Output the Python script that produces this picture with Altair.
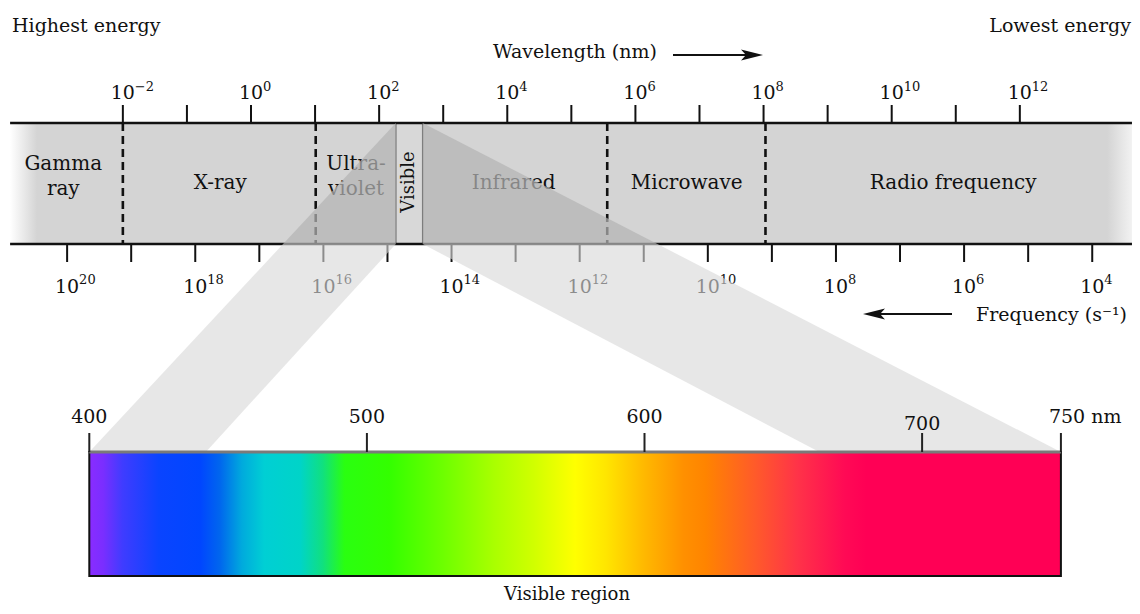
import altair as alt
import pandas as pd

# ------------------------------------------------------------------ data
wavelength_tick_exp = list(range(-2, 13))                 # one tick per decade (nm)
wavelength_label_exp = [-2, 0, 2, 4, 6, 8, 10, 12]
frequency_tick_exp = list(range(20, 3, -1))                 # one tick per decade (s^-1)
frequency_label_exp = [20, 18, 16, 14, 12, 10, 8, 6, 4]
frequency_to_loglambda = 17.13                               # log10(lambda) = 17.13 - log10(f) as drawn
band_extent_loglambda = [-3.76, 13.75]

region_names = ["Gamma\nray", "X-ray", "Ultra-\nviolet", "Infrared", "Microwave", "Radio frequency"]
region_centers = [-2.93, -0.48, 1.64, 4.10, 6.80, 10.96]
visible_name = "Visible"
visible_extent = [2.26, 2.68]
dashed_boundaries = [-2.0, 1.01, 5.56, 8.03]

spectrum_extent_nm = [400, 750]
spectrum_tick_nm = [400, 500, 600, 700, 750]
spectrum_tick_text = ["400", "500", "600", "700", "750 nm"]
spectrum_stop_nm = [400, 405, 412, 425, 440, 447, 455, 463, 476, 484, 492, 508, 527,
                    546, 560, 575, 586, 600, 614, 622, 640, 655, 672, 680, 750]
spectrum_stop_color = ["#8a2cff", "#7a2eff", "#3f3cff", "#0a44ff", "#0046ff", "#0066ee",
                       "#00aadd", "#00cfd4", "#00d4c8", "#10e080", "#2aff10", "#33ff00",
                       "#6cff00", "#aaff00", "#d0ff00", "#ffff00", "#ffe600", "#ffb800",
                       "#ff9000", "#ff8400", "#ff5a2a", "#ff3348", "#ff0a55", "#ff0055", "#ff0055"]
wedge_inner_feet_nm = [442, 663]

# ------------------------------------------------------------------ layout
W, H = 1124, 598
U_DOMAIN = [-3.7927, 13.7506]
NM_DOMAIN = [370.713, 775.61]
FONT = "DejaVu Serif"
INK = "#111111"

Y_TOP_TICK, Y_BAND_TOP, Y_BAND_BOT, Y_BOT_TICK = 97, 115, 236, 254
Y_TOP_LABEL, Y_TOP_EXP = 91, 83
Y_BOT_LABEL, Y_BOT_EXP = 285, 276
Y_REGION_1, Y_REGION_LINE1, Y_REGION_LINE2 = 181, 162, 187
Y_SPEC_TICK, Y_BAR_TOP, Y_BAR_BOT = 425, 444, 568


def u_of_nm(nm):
    return U_DOMAIN[0] + (nm - NM_DOMAIN[0]) / (NM_DOMAIN[1] - NM_DOMAIN[0]) * (U_DOMAIN[1] - U_DOMAIN[0])


def XU(field):
    return alt.X(f"{field}:Q", scale=alt.Scale(domain=U_DOMAIN, nice=False, zero=False), axis=None)


def XN(field):
    return alt.X(f"{field}:Q", scale=alt.Scale(domain=NM_DOMAIN, nice=False, zero=False), axis=None)


def YP(field):
    return alt.Y(f"{field}:Q", scale=alt.Scale(domain=[0, H], reverse=True, nice=False, zero=False), axis=None)


def exp_text(e):
    return ("\u2212" + str(-e)) if e < 0 else str(e)


one = pd.DataFrame({"k": [0]})
layers = []

# ---- grey band with faded ends
band_grad = alt.LinearGradient(
    gradient="linear", x1=0, x2=1, y1=0, y2=0,
    stops=[alt.GradientStop(color="#ffffff", offset=0),
           alt.GradientStop(color="#d4d4d4", offset=0.024),
           alt.GradientStop(color="#d4d4d4", offset=0.978),
           alt.GradientStop(color="#f2f2f2", offset=1)])
band_df = pd.DataFrame({"u0": [band_extent_loglambda[0]], "u1": [band_extent_loglambda[1]]})
layers.append(alt.Chart(band_df).mark_rect(fill=band_grad).encode(
    x=XU("u0"), x2="u1", y=alt.value(Y_BAND_TOP), y2=alt.value(Y_BAND_BOT)))

# ---- visible slot
vis_df = pd.DataFrame({"u0": [visible_extent[0]], "u1": [visible_extent[1]],
                       "uc": [(visible_extent[0] + visible_extent[1]) / 2], "t": [visible_name]})
layers.append(alt.Chart(vis_df).mark_rect(fill="#d8d8d8", stroke="#6e6e6e", strokeWidth=1.5).encode(
    x=XU("u0"), x2="u1", y=alt.value(Y_BAND_TOP), y2=alt.value(Y_BAND_BOT)))
layers.append(alt.Chart(vis_df).mark_text(font=FONT, fontSize=18, angle=270, align="center",
                                          baseline="middle", color=INK).encode(
    x=XU("uc"), y=alt.value(174), text="t:N"))

# ---- region labels
rows = []
for name, c in zip(region_names, region_centers):
    parts = name.split("\n")
    if len(parts) == 1:
        rows.append({"u": c, "t": parts[0], "y": Y_REGION_1})
    else:
        rows.append({"u": c, "t": parts[0], "y": Y_REGION_LINE1})
        rows.append({"u": c, "t": parts[1], "y": Y_REGION_LINE2})
reg_df = pd.DataFrame(rows)
layers.append(alt.Chart(reg_df).mark_text(font=FONT, fontSize=20, align="center",
                                          baseline="alphabetic", color=INK).encode(
    x=XU("u"), y=YP("y"), text="t:N"))

# ---- dashed boundaries
dash_df = pd.DataFrame({"u": dashed_boundaries})
layers.append(alt.Chart(dash_df).mark_rule(color=INK, strokeWidth=2.6, strokeDash=[8, 5]).encode(
    x=XU("u"), y=alt.value(Y_BAND_TOP), y2=alt.value(Y_BAND_BOT)))

# ---- band edge lines
for yy in (Y_BAND_TOP, Y_BAND_BOT):
    layers.append(alt.Chart(band_df).mark_rule(color=INK, strokeWidth=2.5).encode(
        x=XU("u0"), x2="u1", y=alt.value(yy)))

# ---- wavelength axis (top)
wt_df = pd.DataFrame({"u": wavelength_tick_exp})
layers.append(alt.Chart(wt_df).mark_rule(color=INK, strokeWidth=2).encode(
    x=XU("u"), y=alt.value(Y_TOP_TICK), y2=alt.value(Y_BAND_TOP)))
wl_df = pd.DataFrame({"u": wavelength_label_exp, "base": ["10"] * len(wavelength_label_exp),
                      "e": [exp_text(e) for e in wavelength_label_exp]})
layers.append(alt.Chart(wl_df).mark_text(font=FONT, fontSize=19, align="center",
                                         baseline="alphabetic", color=INK).encode(
    x=XU("u"), y=alt.value(Y_TOP_LABEL), text="base:N"))
layers.append(alt.Chart(wl_df).mark_text(font=FONT, fontSize=13, align="left", dx=12,
                                         baseline="alphabetic", color=INK).encode(
    x=XU("u"), y=alt.value(Y_TOP_EXP), text="e:N"))

# ---- frequency axis (bottom)
ft_df = pd.DataFrame({"u": [frequency_to_loglambda - e for e in frequency_tick_exp]})
layers.append(alt.Chart(ft_df).mark_rule(color=INK, strokeWidth=2).encode(
    x=XU("u"), y=alt.value(Y_BAND_BOT), y2=alt.value(Y_BOT_TICK)))
fl_df = pd.DataFrame({"u": [frequency_to_loglambda - e for e in frequency_label_exp],
                      "base": ["10"] * len(frequency_label_exp),
                      "e": [exp_text(e) for e in frequency_label_exp]})
layers.append(alt.Chart(fl_df).mark_text(font=FONT, fontSize=19, align="center",
                                         baseline="alphabetic", color=INK).encode(
    x=XU("u"), y=alt.value(Y_BOT_LABEL), text="base:N"))
layers.append(alt.Chart(fl_df).mark_text(font=FONT, fontSize=13, align="left", dx=12,
                                         baseline="alphabetic", color=INK).encode(
    x=XU("u"), y=alt.value(Y_BOT_EXP), text="e:N"))

# ---- projection wedges from the visible slot to the spectrum bar
bar_l = u_of_nm(spectrum_extent_nm[0])
bar_r = u_of_nm(spectrum_extent_nm[1])
foot_l = u_of_nm(wedge_inner_feet_nm[0])
foot_r = u_of_nm(wedge_inner_feet_nm[1])
frac = (Y_BAND_BOT - Y_BAND_TOP) / (Y_BAR_TOP - Y_BAND_TOP)
outer_l = visible_extent[0] + (bar_l - visible_extent[0]) * frac
outer_r = visible_extent[1] + (bar_r - visible_extent[1]) * frac

dark_df = pd.DataFrame([
    {"s": "L", "py": Y_BAND_TOP, "xa": visible_extent[0], "xb": visible_extent[0]},
    {"s": "L", "py": Y_BAND_BOT, "xa": outer_l, "xb": visible_extent[0]},
    {"s": "R", "py": Y_BAND_TOP, "xa": visible_extent[1], "xb": visible_extent[1]},
    {"s": "R", "py": Y_BAND_BOT, "xa": visible_extent[1], "xb": outer_r},
])
layers.append(alt.Chart(dark_df).mark_area(orient="horizontal", color="#b4b4b4", opacity=0.72).encode(
    y=YP("py"), x=alt.X("xa:Q", scale=alt.Scale(domain=U_DOMAIN, nice=False, zero=False), axis=None, stack=None),
    x2="xb", detail="s:N"))

light_df = pd.DataFrame([
    {"s": "L", "py": Y_BAND_BOT, "xa": outer_l, "xb": visible_extent[0]},
    {"s": "L", "py": Y_BAR_TOP, "xa": bar_l, "xb": foot_l},
    {"s": "R", "py": Y_BAND_BOT, "xa": visible_extent[1], "xb": outer_r},
    {"s": "R", "py": Y_BAR_TOP, "xa": foot_r, "xb": bar_r},
])
layers.append(alt.Chart(light_df).mark_area(orient="horizontal", color="#d9d9d9", opacity=0.62).encode(
    y=YP("py"), x=alt.X("xa:Q", scale=alt.Scale(domain=U_DOMAIN, nice=False, zero=False), axis=None, stack=None),
    x2="xb", detail="s:N"))

# ---- visible spectrum bar
lo, hi = spectrum_extent_nm
spec_grad = alt.LinearGradient(
    gradient="linear", x1=0, x2=1, y1=0, y2=0,
    stops=[alt.GradientStop(color=c, offset=(n - lo) / (hi - lo))
           for n, c in zip(spectrum_stop_nm, spectrum_stop_color)])
bar_df = pd.DataFrame({"n0": [lo], "n1": [hi]})
layers.append(alt.Chart(bar_df).mark_rect(fill=spec_grad, stroke=INK, strokeWidth=2).encode(
    x=XN("n0"), x2="n1", y=alt.value(Y_BAR_TOP), y2=alt.value(Y_BAR_BOT)))
layers.append(alt.Chart(bar_df).mark_rule(color="#7a7a7a", strokeWidth=3).encode(
    x=XN("n0"), x2="n1", y=alt.value(Y_BAR_TOP)))
st_df = pd.DataFrame({"nm": spectrum_tick_nm, "t": spectrum_tick_text,
                      "y": [422 if n == 700 else 415 for n in spectrum_tick_nm]})
layers.append(alt.Chart(st_df).mark_rule(color="#222222", strokeWidth=2).encode(
    x=XN("nm"), y=alt.value(Y_SPEC_TICK), y2=alt.value(Y_BAR_TOP)))
layers.append(alt.Chart(st_df[st_df.nm < hi]).mark_text(font=FONT, fontSize=19, align="center",
                                                         baseline="alphabetic", color=INK).encode(
    x=XN("nm"), y=YP("y"), text="t:N"))
layers.append(alt.Chart(st_df[st_df.nm == hi]).mark_text(font=FONT, fontSize=19, align="left", dx=-12,
                                                          baseline="alphabetic", color=INK).encode(
    x=XN("nm"), y=YP("y"), text="t:N"))

# ---- annotations
def label(text, x, y, align, size=19):
    return alt.Chart(one).mark_text(font=FONT, fontSize=size, align=align, baseline="alphabetic",
                                    color=INK, text=text).encode(x=alt.value(x), y=alt.value(y))

layers.append(label("Highest energy", 4, 24, "left"))
layers.append(label("Lowest energy", 1123, 24, "right"))
layers.append(label("Wavelength (nm)", 567, 50, "center", 19))
layers.append(label("Frequency (s\u207b\u00b9)", 1119, 313, "right", 19))
layers.append(label("Visible region", 559, 592, "center", 18))

layers.append(alt.Chart(one).mark_rule(color=INK, strokeWidth=2).encode(
    x=alt.value(665), x2=alt.value(742), y=alt.value(47)))
layers.append(alt.Chart(one).mark_point(shape="M1,0L-1,-0.5L-0.55,0L-1,0.5Z", filled=True, size=484,
                                        color=INK, opacity=1).encode(x=alt.value(744), y=alt.value(47)))
layers.append(alt.Chart(one).mark_rule(color=INK, strokeWidth=2).encode(
    x=alt.value(870), x2=alt.value(944), y=alt.value(306)))
layers.append(alt.Chart(one).mark_point(shape="M-1,0L1,-0.5L0.55,0L1,0.5Z", filled=True, size=484,
                                        color=INK, opacity=1).encode(x=alt.value(866), y=alt.value(306)))

chart = (alt.layer(*layers)
         .resolve_scale(x="independent")
         .properties(width=W, height=H, padding=0, autosize=alt.AutoSizeParams(type="none"))
         .configure_view(stroke=None))

chart.save("out.html", embed_options={"renderer": "svg", "actions": False})
